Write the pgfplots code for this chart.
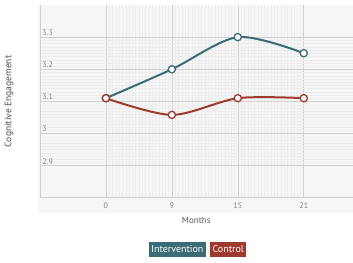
\documentclass[border=0pt]{standalone}
\usepackage{pgfplots}
\pgfplotsset{compat=1.18}
\usepackage{fontspec}
\setmainfont{PT Sans}
\definecolor{interv}{HTML}{3B6C75}
\definecolor{ctrl}{HTML}{9E3A2D}
\definecolor{gridc}{HTML}{D0D0D0}
\definecolor{fine}{HTML}{EDEDED}
\definecolor{bgc}{HTML}{F6F6F6}
\definecolor{tickc}{HTML}{858585}
\begin{document}
\begin{tikzpicture}[x=1pt,y=1pt]
\path (0,0) rectangle (353,263);
\fill[bgc] (38,50) rectangle (353,258);
\begin{axis}[
  at={(40pt,65pt)}, anchor=south west,
  scale only axis, width=313pt, height=193pt,
  xmin=-1, xmax=3.74, ymin=2.8, ymax=3.4,
  axis x line=bottom, axis y line=left,
  axis line style={draw=gridc, line width=0.8pt, -},
  xtick={0,1,2,3}, xticklabels={0,9,15,21},
  ytick={2.9,3.0,3.1,3.2,3.3},
  yticklabels={2.9,3,3.1,3.2,3.3},
  minor x tick num=19, minor y tick num=9,
  major tick length=0pt, minor tick length=0pt,
  grid=both,
  major grid style={draw=gridc, line width=0.6pt},
  minor grid style={draw=fine, line width=0.2pt},
  tick label style={font=\fontsize{8}{9}\selectfont, text=tickc},
  yticklabel style={anchor=south west, xshift=-1pt, yshift=-2pt},
  xticklabel style={yshift=-2pt},
  xlabel={Months}, xlabel style={font=\fontsize{9}{10}\selectfont, text=black!65, yshift=-1pt},
  ylabel={Cognitive Engagement},
  every axis y label/.style={at={(axis description cs:-0.099,0.5)}, anchor=center, rotate=90,
    font=\fontsize{9.5}{11}\selectfont, text=black!70},
  clip=false,
]
\addplot[interv, line width=2pt, smooth, tension=0.5, mark=*, mark size=3.6pt,
  mark options={fill=white, draw=interv, line width=1.3pt}]
  coordinates {(0,3.11) (1,3.20) (2,3.30) (3,3.25)};
\addplot[ctrl, line width=2pt, smooth, tension=0.5, mark=*, mark size=3.6pt,
  mark options={fill=white, draw=ctrl, line width=1.3pt}]
  coordinates {(0,3.11) (1,3.058) (2,3.11) (3,3.11)};
\end{axis}
\node[fill=interv, text=white, font=\fontsize{10}{11}\selectfont, inner xsep=2.5pt, inner ysep=2pt, minimum height=15pt] at (177.5,13.5) {Intervention};
\node[fill=ctrl, text=white, font=\fontsize{10}{11}\selectfont, inner xsep=2.5pt, inner ysep=2pt, minimum height=15pt] at (228.5,13.5) {Control};
\end{tikzpicture}
\end{document}
